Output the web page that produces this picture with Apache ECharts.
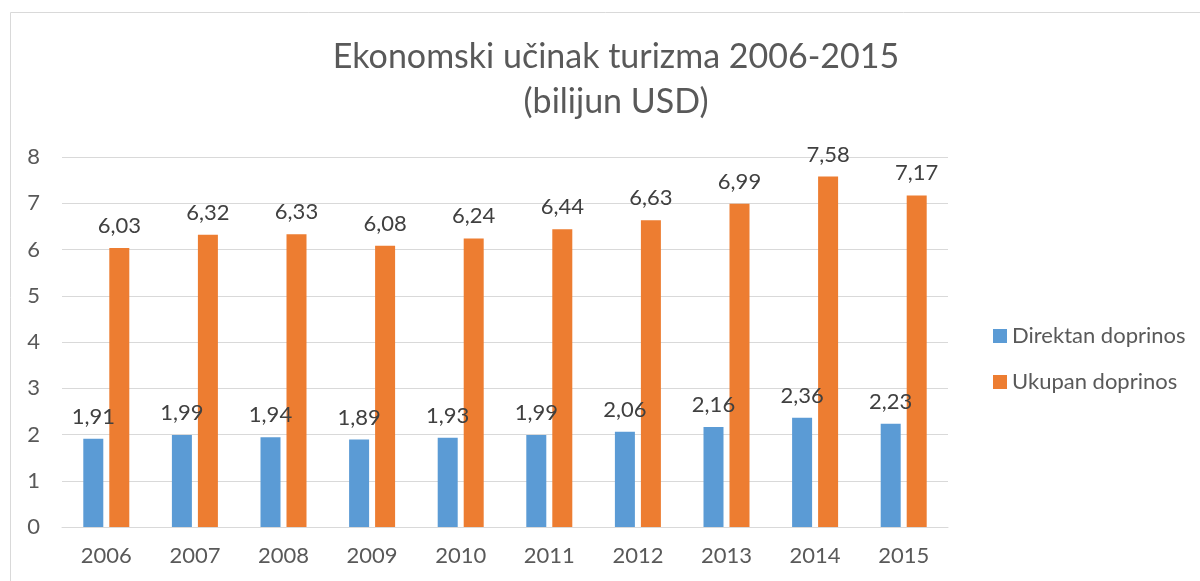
<!DOCTYPE html>
<html><head><meta charset="utf-8">
<script src="https://cdn.jsdelivr.net/npm/echarts@6/dist/echarts.min.js"></script>
<style>html,body{margin:0;padding:0;background:#fff}#c{width:1200px;height:581px}</style>
</head><body><div id="c"></div>
<script>
const categories = ['2006','2007','2008','2009','2010','2011','2012','2013','2014','2015'];
const direktan = [1.91,1.99,1.94,1.89,1.93,1.99,2.06,2.16,2.36,2.23];
const ukupan = [6.03,6.32,6.33,6.08,6.24,6.44,6.63,6.99,7.58,7.17];
const seriesNames = ['Direktan doprinos','Ukupan doprinos'];
const titleText = 'Ekonomski učinak turizma 2006-2015\n(bilijun USD)';
const FONT = 'Lato';
const chart = echarts.init(document.getElementById('c'));
const lbl = {show:true, position:'top', distance:11, fontFamily:FONT, fontSize:22, color:'#404040',
  formatter: p => p.value.toFixed(2).replace('.', ',')};
chart.setOption({
  animation:false,
  graphic:[{type:'rect', shape:{x:10.5,y:12.5,width:1220,height:620}, style:{fill:'none',stroke:'#d9d9d9',lineWidth:1}}],
  title:{text:titleText, left:611, textAlign:'center', top:30,
    textStyle:{fontFamily:FONT, fontSize:34, fontWeight:'normal', color:'#595959', lineHeight:45}},
  legend:{orient:'vertical', left:988, top:320, itemWidth:14, itemHeight:14, itemGap:24, icon:'rect',
    textStyle:{fontFamily:FONT, fontSize:22, color:'#595959'}, data:seriesNames},
  grid:{left:62, right:252, top:157, bottom:54, containLabel:false},
  xAxis:{type:'category', data:categories,
    axisLine:{lineStyle:{color:'#d9d9d9', width:1}}, axisTick:{show:false},
    axisLabel:{fontFamily:FONT, fontSize:22, color:'#595959', margin:18}},
  yAxis:{type:'value', min:0, max:8, interval:1,
    axisLine:{show:false}, axisTick:{show:false},
    splitLine:{lineStyle:{color:'#d9d9d9', width:1}},
    axisLabel:{fontFamily:FONT, fontSize:22, color:'#595959', margin:22}},
  series:[
    {name:seriesNames[0], type:'bar', data:direktan, barWidth:20, barGap:'30%',
      itemStyle:{color:'#5b9bd5'}, label:lbl},
    {name:seriesNames[1], type:'bar', data:ukupan, barWidth:20,
      itemStyle:{color:'#ed7d31'}, label:lbl}
  ]
});
</script></body></html>
